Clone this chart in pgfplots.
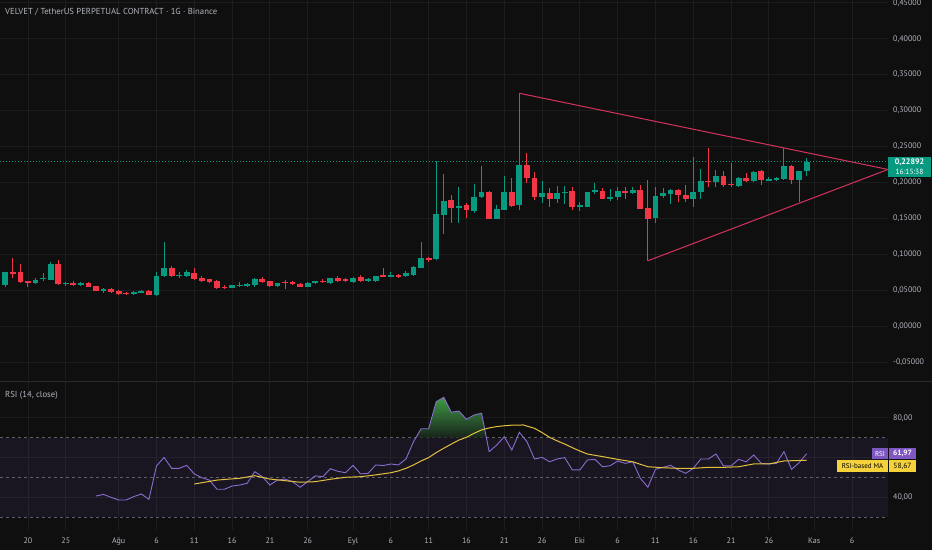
\documentclass[border=0pt]{standalone}
\usepackage{pgfplots}
\pgfplotsset{compat=1.18}
\usepackage{pgfplotstable}
\usepackage{fontspec}
\setmainfont{PT Sans}
\definecolor{bg}{HTML}{0F0F0F}
\definecolor{gridc}{HTML}{1D1D1D}
\definecolor{sepc}{HTML}{2A2A2A}
\definecolor{txt}{HTML}{B2B5BE}
\definecolor{up}{HTML}{089981}
\definecolor{down}{HTML}{F23645}
\definecolor{tri}{HTML}{D6335C}
\definecolor{rsic}{HTML}{7E57C2}
\definecolor{rsiline}{HTML}{8A6BD0}
\definecolor{mac}{HTML}{E3C040}
\definecolor{maboxc}{HTML}{F5D13A}
\definecolor{dashc}{HTML}{5D5F66}
\definecolor{obtop}{HTML}{3F9A45}
\definecolor{obbot}{HTML}{17231A}

\pgfplotstableread{
d o h l c
-3 0.0571 0.0757 0.0548 0.0748
1 0.0603 0.0664 0.0585 0.0641
2 0.0655 0.0743 0.0631 0.0669
3 0.0641 0.0896 0.0641 0.0859
5 0.0585 0.0617 0.0562 0.0603
7 0.0571 0.0617 0.0557 0.0594
10 0.0487 0.0534 0.0464 0.0515
14 0.0445 0.0487 0.0436 0.0478
15 0.0464 0.0501 0.0455 0.0492
17 0.0432 0.0748 0.0422 0.0701
18 0.0696 0.1166 0.0687 0.0804
20 0.0706 0.0748 0.0664 0.0715
21 0.0701 0.0780 0.0687 0.0748
27 0.0534 0.0571 0.0525 0.0567
28 0.0557 0.0617 0.0539 0.0576
29 0.0567 0.0594 0.0539 0.0585
30 0.0571 0.0664 0.0548 0.0655
33 0.0557 0.0603 0.0539 0.0603
37 0.0548 0.0613 0.0539 0.0603
38 0.0594 0.0631 0.0585 0.0627
40 0.0603 0.0673 0.0585 0.0664
43 0.0617 0.0687 0.0603 0.0673
45 0.0631 0.0664 0.0617 0.0650
46 0.0631 0.0701 0.0617 0.0696
48 0.0687 0.0748 0.0678 0.0706
50 0.0692 0.0762 0.0683 0.0738
51 0.0710 0.0836 0.0701 0.0826
52 0.0812 0.1166 0.0804 0.0943
54 0.0933 0.2298 0.0919 0.1556
55 0.1546 0.2117 0.1277 0.1745
57 0.1639 0.1940 0.1439 0.1676
59 0.1606 0.1978 0.1579 0.1792
60 0.1792 0.2228 0.1778 0.1862
62 0.1490 0.1685 0.1490 0.1625
63 0.1616 0.2089 0.1616 0.1866
65 0.1685 0.3241 0.1616 0.2238
68 0.1801 0.2024 0.1717 0.1857
70 0.1769 0.1949 0.1708 0.1848
71 0.1848 0.1949 0.1699 0.1871
73 0.1662 0.1731 0.1606 0.1685
74 0.1662 0.1871 0.1662 0.1871
75 0.1880 0.1996 0.1834 0.1894
77 0.1778 0.1903 0.1745 0.1801
78 0.1801 0.1940 0.1755 0.1880
80 0.1848 0.1940 0.1834 0.1894
83 0.1500 0.1940 0.1430 0.1815
84 0.1815 0.1918 0.1787 0.1848
85 0.1839 0.1903 0.1699 0.1894
88 0.1769 0.2358 0.1653 0.1871
89 0.1871 0.2182 0.1769 0.2020
91 0.2001 0.2173 0.1940 0.2093
94 0.1954 0.2070 0.1940 0.2057
96 0.2024 0.2163 0.2001 0.2149
98 0.2033 0.2070 0.2015 0.2047
99 0.2043 0.2070 0.2024 0.2057
100 0.2047 0.2475 0.2033 0.2233
102 0.2033 0.2158 0.1731 0.2158
103 0.2158 0.2336 0.2093 0.22892
}\upc

\pgfplotstableread{
d o h l c
-2 0.0745 0.0951 0.0673 0.0738
-1 0.0748 0.0863 0.0595 0.0609
0 0.0627 0.0632 0.0539 0.0609
4 0.0859 0.0919 0.0571 0.0585
6 0.0603 0.0630 0.0562 0.0571
8 0.0594 0.0617 0.0539 0.0548
9 0.0557 0.0560 0.0487 0.0492
11 0.0515 0.0525 0.0464 0.0474
12 0.0487 0.0501 0.0427 0.0445
13 0.0464 0.0473 0.0436 0.0445
16 0.0492 0.0501 0.0427 0.0432
19 0.0804 0.0841 0.0678 0.0701
22 0.0743 0.0813 0.0641 0.0655
23 0.0673 0.0696 0.0617 0.0631
24 0.0650 0.0659 0.0603 0.0617
25 0.0627 0.0641 0.0511 0.0534
26 0.0548 0.0571 0.0511 0.0525
31 0.0655 0.0687 0.0594 0.0609
32 0.0627 0.0627 0.0548 0.0557
34 0.0617 0.0645 0.0511 0.0603
35 0.0613 0.0627 0.0576 0.0585
36 0.0585 0.0594 0.0539 0.0548
39 0.0631 0.0650 0.0603 0.0617
41 0.0664 0.0701 0.0617 0.0631
42 0.0650 0.0669 0.0617 0.0631
44 0.0678 0.0710 0.0617 0.0631
47 0.0706 0.0813 0.0678 0.0687
49 0.0706 0.0720 0.0673 0.0687
53 0.0951 0.0961 0.0891 0.0919
56 0.1755 0.1825 0.1439 0.1639
58 0.1685 0.1718 0.1500 0.1616
61 0.1871 0.1880 0.1490 0.1490
64 0.1866 0.2057 0.1662 0.1676
66 0.2238 0.2414 0.1996 0.2057
67 0.2065 0.2140 0.1755 0.1792
69 0.1857 0.1918 0.1662 0.1769
72 0.1880 0.1940 0.1616 0.1653
76 0.1885 0.1918 0.1764 0.1774
79 0.1880 0.1940 0.1764 0.1848
81 0.1894 0.1964 0.1630 0.1630
82 0.1648 0.2033 0.0909 0.1490
86 0.1894 0.1903 0.1731 0.1825
87 0.1825 0.1964 0.1723 0.1769
90 0.2024 0.2475 0.1940 0.2006
92 0.2093 0.2158 0.1940 0.1964
93 0.1978 0.2275 0.1932 0.1964
95 0.2057 0.2135 0.2010 0.2024
97 0.2158 0.2173 0.1964 0.2033
101 0.2233 0.2243 0.1978 0.2033
}\downc

\pgfplotstableread{
d r
9 40.7
10 41.5
11 40.0
12 38.7
13 38.7
14 40.4
15 41.7
16 39.0
17 55.8
18 60.1
19 54.6
20 54.6
21 56.1
22 51.8
23 49.9
24 48.7
25 44.1
26 44.1
27 45.7
28 46.2
29 47.1
30 52.9
31 50.4
32 46.2
33 48.7
34 49.2
35 47.9
36 45.1
37 47.9
38 50.8
39 50.4
40 54.4
41 53.1
42 52.4
43 56.1
44 51.8
45 52.1
46 56.3
47 56.0
48 56.8
49 56.3
50 59.3
51 68.0
52 74.5
53 74.5
54 88.1
55 90.3
56 82.8
57 83.4
58 79.2
59 81.4
60 82.3
61 63.0
62 66.3
63 70.5
64 63.8
65 72.7
66 68.0
67 59.3
68 60.1
69 57.9
70 59.3
71 60.0
72 53.8
73 53.8
74 58.8
75 59.1
76 55.4
77 55.9
78 58.3
79 57.1
80 57.9
81 49.6
82 45.1
83 54.1
84 55.1
85 56.1
86 53.8
87 52.1
88 54.6
89 59.3
90 59.3
91 61.8
92 55.8
93 55.8
94 59.1
95 57.9
96 61.3
97 57.1
98 56.8
99 57.1
100 63.0
101 54.1
102 57.4
103 61.97
}\rsi

\pgfplotstableread{
d m
22 46.7
25 48.7
28 49.6
30 50.9
32 49.2
34 48.4
36 47.6
38 47.9
40 49.1
42 50.1
44 50.4
46 51.3
48 52.4
49 53.3
50 54.6
51 56.3
52 58.3
53 60.0
54 62.5
55 64.7
56 66.8
57 68.8
58 70.2
59 72.2
60 73.9
61 74.9
62 75.6
63 76.0
64 76.3
65.5 76.4
67 74.7
68 72.6
69 70.2
70 68.4
71 66.8
72 65.0
73 63.3
74 61.8
76 60.5
78 59.1
80 57.9
82 55.4
84 54.9
86 54.6
88 54.6
90 55.1
92 55.1
94 55.4
96 56.8
98 56.8
100 58.3
103 58.67
}\rsima

\pgfplotsset{
  tvbase/.style={scale only axis, width=888pt, xmin=-3.70, xmax=113.76,
    axis line style={draw=none}, major tick length=0pt,
    scaled y ticks=false,
    xtick={0,5,12,17,22,27,32,37,43,48,53,58,63,68,73,78,83,88,93,98,104,109},
    grid=major, major grid style={draw=gridc, line width=0.8pt},
    yticklabel pos=right,
    ticklabel style={font=\fontsize{8}{9}\selectfont, text=txt},
    yticklabel style={anchor=west, inner sep=0pt, xshift=5pt},
  },
  wick/.style={only marks, no markers, mark=none, mark size=0pt, mark options={draw=none, fill=none}, forget plot,
    error bars/y dir=both, error bars/y explicit, error bars/error mark=none,
    error bars/error bar style={line width=1pt, draw=#1, solid}},
  body/.style={only marks, no markers, mark=none, mark size=0pt, mark options={draw=none, fill=none}, forget plot,
    error bars/y dir=both, error bars/y explicit, error bars/error mark=none,
    error bars/error bar style={line width=5.8pt, draw=#1, solid}},
}

\begin{document}
\begin{tikzpicture}
\useasboundingbox (0pt,0pt) rectangle (932pt,550pt);
\fill[bg] (0pt,0pt) rectangle (932pt,550pt);

% ---------- main price pane ----------
\begin{axis}[tvbase, at={(0pt,170pt)}, anchor=south west, height=380pt,
  ymin=-0.0752, ymax=0.4540,
  ytick={-0.05,0,0.05,0.1,0.15,0.2,0.25,0.3,0.35,0.4,0.45},
  yticklabels={{-0,05000},{0,00000},{0,05000},{0,10000},{0,15000},{0,20000},{0,25000},{0,30000},{0,35000},{0,40000},{0,45000}},
  xticklabels={},
]
\addplot[up, dash pattern=on 1pt off 2pt, line width=0.6pt, forget plot] coordinates {(-3.7,0.22892) (113.76,0.22892)};
\addplot[wick=up] table[x=d, y expr={(\thisrow{h}+\thisrow{l})/2}, y error expr={(\thisrow{h}-\thisrow{l})/2}] {\upc};
\addplot[wick=down] table[x=d, y expr={(\thisrow{h}+\thisrow{l})/2}, y error expr={(\thisrow{h}-\thisrow{l})/2}] {\downc};
\addplot[body=up] table[x=d, y expr={(\thisrow{o}+\thisrow{c})/2}, y error expr={max(abs(\thisrow{c}-\thisrow{o})/2,0.0006)}] {\upc};
\addplot[body=down] table[x=d, y expr={(\thisrow{o}+\thisrow{c})/2}, y error expr={max(abs(\thisrow{c}-\thisrow{o})/2,0.0006)}] {\downc};
\addplot[tri, line width=1pt, forget plot] coordinates {(65,0.3241) (113.76,0.2180)};
\addplot[tri, line width=1pt, forget plot] coordinates {(82,0.0909) (113.76,0.2180)};
\end{axis}

% ---------- RSI pane ----------
\begin{axis}[tvbase, at={(0pt,20pt)}, anchor=south west, height=148pt,
  ymin=23.6, ymax=98.0,
  ytick={40,60,80}, yticklabels={{40,00},{},{80,00}},
  xticklabels={20,25,Ağu,6,11,16,21,26,Eyl,6,11,16,21,26,Eki,6,11,16,21,26,Kas,6},
  xticklabel style={anchor=base, yshift=-13pt},
]
\addplot[draw=none, fill=rsic, fill opacity=0.1, forget plot] coordinates {(-3.7,30) (113.76,30) (113.76,70) (-3.7,70)} -- cycle;
\addplot[dashc, dash pattern=on 3pt off 3pt, line width=0.8pt, forget plot] coordinates {(-3.7,70) (113.76,70)};
\addplot[dashc, dash pattern=on 3pt off 3pt, line width=0.8pt, forget plot] coordinates {(-3.7,50) (113.76,50)};
\addplot[dashc, dash pattern=on 3pt off 3pt, line width=0.8pt, forget plot] coordinates {(-3.7,30) (113.76,30)};
\addplot[draw=none, top color=obtop, bottom color=obbot, forget plot] coordinates {(51.31,70) (52,74.5) (53,74.5) (54,88.1) (55,90.3) (56,82.8) (57,83.4) (58,79.2) (59,81.4) (60,82.3) (60.64,70)} -- cycle;
\addplot[rsiline, line width=0.9pt, forget plot] table[x=d, y=r] {\rsi};
\addplot[mac, line width=1pt, forget plot] table[x=d, y=m] {\rsima};
\end{axis}

\draw[sepc, line width=1pt] (0pt,169pt) -- (932pt,169pt);

% texts
\node[anchor=base west, inner sep=0pt, text=txt, font=\fontsize{8.7}{10}\selectfont] at (5pt,535.5pt) {VELVET / TetherUS PERPETUAL CONTRACT · 1G · Binance};
\node[anchor=base west, inner sep=0pt, text=txt, font=\fontsize{8.7}{10}\selectfont] at (5pt,152.7pt) {RSI (14, close)};

% current price label
\fill[up] (888pt,373.3pt) rectangle (931pt,392.7pt);
\node[text=white, inner sep=0pt, font=\fontsize{8}{9}\selectfont\bfseries] at (909.5pt,387.3pt) {0,22892};
\node[text=white, inner sep=0pt, font=\fontsize{7.5}{9}\selectfont] at (909.5pt,378.3pt) {16:15:38};

% RSI labels
\fill[rsic] (872pt,91pt) rectangle (888pt,101.7pt);
\node[text=white, inner sep=0pt, font=\fontsize{7}{8}\selectfont] at (880pt,96.3pt) {RSI};
\fill[rsic] (889pt,91pt) rectangle (916pt,101.7pt);
\node[text=white, inner sep=0pt, font=\fontsize{7.5}{8}\selectfont\bfseries] at (902.5pt,96.3pt) {61,97};
\fill[maboxc] (837pt,78.3pt) rectangle (888pt,90pt);
\node[text=black, inner sep=0pt, font=\fontsize{7}{8}\selectfont] at (862.5pt,84.1pt) {RSI-based MA};
\fill[maboxc] (889pt,78.3pt) rectangle (916pt,90pt);
\node[text=black, inner sep=0pt, font=\fontsize{7.5}{8}\selectfont] at (902.5pt,84.1pt) {58,67};
\end{tikzpicture}
\end{document}
